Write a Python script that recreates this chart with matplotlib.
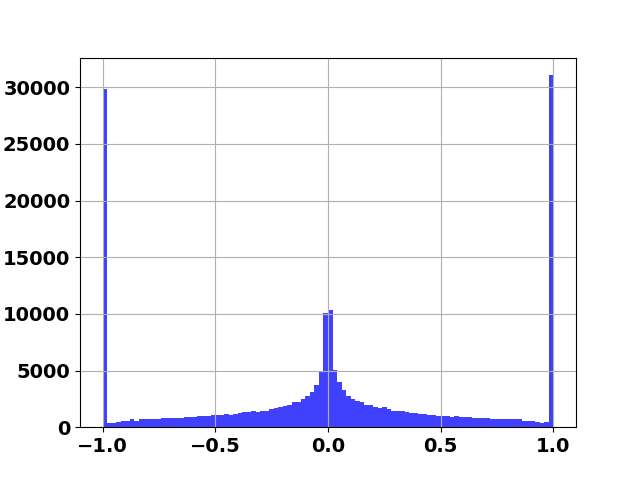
import numpy as np
import matplotlib
matplotlib.use("Agg")
import matplotlib.pyplot as plt

# 100 bins of width 0.02 on [-1, 1]; counts
edges = np.linspace(-1.0, 1.0, 101)
counts = [
    29820, 410, 410, 500, 590, 590, 680, 590, 680, 680,
    680, 760, 760, 850, 850, 850, 850, 850, 940, 940,
    940, 1030, 1030, 1030, 1120, 1120, 1120, 1200, 1120, 1200,
    1290, 1380, 1380, 1470, 1380, 1470, 1470, 1650, 1730, 1820,
    1910, 2000, 2180, 2260, 2530, 2790, 3150, 3760, 4940, 10080,
    10380, 5090, 3970, 3320, 2790, 2530, 2350, 2200, 2000, 2000,
    1760, 1680, 1760, 1650, 1470, 1470, 1470, 1380, 1290, 1290,
    1200, 1200, 1120, 1120, 1030, 1030, 1030, 940, 1030, 940,
    940, 940, 850, 850, 850, 850, 760, 760, 760, 760,
    760, 680, 680, 590, 590, 590, 500, 410, 500, 31060,
]
centers = (edges[:-1] + edges[1:]) / 2

plt.rcParams["font.size"] = 14
plt.rcParams["font.weight"] = "bold"

fig, ax = plt.subplots(figsize=(6.4, 4.8), dpi=100)
ax.hist(centers, bins=edges, weights=counts, color="blue", alpha=0.75)
ax.grid(True)
fig.savefig("out.png")
